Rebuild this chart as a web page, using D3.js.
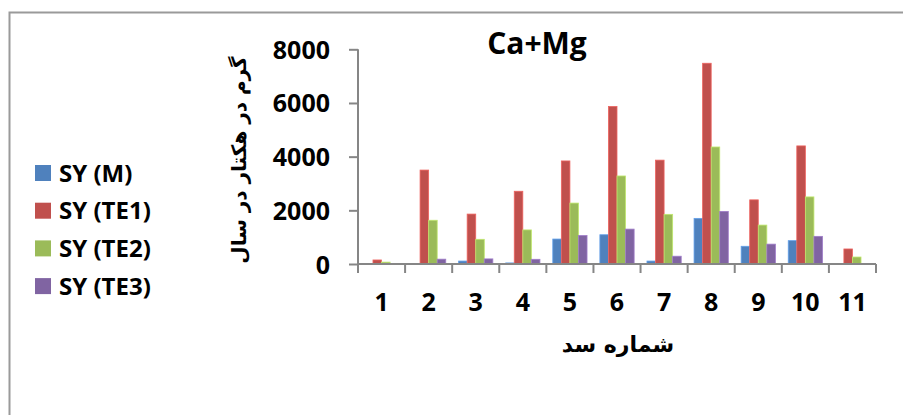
<!DOCTYPE html>
<html><head><meta charset="utf-8">
<script src="https://cdn.jsdelivr.net/npm/d3@7"></script>
<style>
html,body{margin:0;padding:0;background:#fff;overflow:hidden}
svg{display:block}
</style></head>
<body>
<svg id="c" width="903" height="415"></svg>
<script>
const categories = ["1","2","3","4","5","6","7","8","9","10","11"];
const seriesNames = ["SY (M)","SY (TE1)","SY (TE2)","SY (TE3)"];
const seriesColors = ["#4F81BD","#C0504D","#9BBB59","#8064A2"];
const SY_M   = [0, 10, 110, 40, 930, 1090, 110, 1700, 660, 870, 0];
const SY_TE1 = [150, 3500, 1860, 2710, 3840, 5870, 3870, 7480, 2390, 4400, 560];
const SY_TE2 = [70, 1630, 920, 1270, 2270, 3280, 1850, 4360, 1450, 2500, 260];
const SY_TE3 = [0, 180, 190, 175, 1060, 1300, 290, 1960, 740, 1030, 0];
const yTicks = [0, 2000, 4000, 6000, 8000];
const title = "Ca+Mg";
const yTitle = "گرم در هکتار در سال";
const xTitle = "شماره سد";

const seriesValues = [SY_M, SY_TE1, SY_TE2, SY_TE3];
const svg = d3.select("#c");
const font = "'Open Sans', 'DejaVu Sans', sans-serif";
const axisColor = "#868686";

// outer chart border
svg.append("rect").attr("x",9.5).attr("y",12.5).attr("width",1000).attr("height",1000)
  .attr("fill","none").attr("stroke","#9a9a9a").attr("stroke-width",2);

const x = d3.scaleBand().domain(categories).range([358, 876]).paddingInner(0).paddingOuter(0);
const xs = d3.scaleBand().domain(seriesNames).range([0, x.bandwidth()]).paddingInner(0).paddingOuter(0.75);
const y = d3.scaleLinear().domain([0, 8000]).range([264, 49.3]);

// bars
const g = svg.append("g");
seriesNames.forEach((s, si) => {
  g.selectAll(null).data(categories).enter().append("rect")
    .attr("x", c => x(c) + xs(s))
    .attr("width", xs.bandwidth())
    .attr("y", (c, i) => y(seriesValues[si][i]))
    .attr("height", (c, i) => y(0) - y(seriesValues[si][i]))
    .attr("fill", seriesColors[si])
    .attr("stroke", d3.color(seriesColors[si]).brighter(0.6))
    .attr("stroke-width", 0.8);
});

// y axis
const yAxis = svg.append("g").attr("transform","translate(358,0)")
  .call(d3.axisLeft(y).tickValues(yTicks).tickSize(9).tickPadding(19).tickFormat(d3.format("d")));
yAxis.select(".domain").attr("stroke",axisColor).attr("stroke-width",2).attr("d","M0,49.3V264");
yAxis.selectAll(".tick line").attr("stroke",axisColor).attr("stroke-width",2);
yAxis.selectAll(".tick text").attr("font-family",font).attr("font-weight","bold")
  .attr("font-size",25).attr("fill","#000").attr("dy","0.36em");

// x axis
const xAxis = svg.append("g").attr("transform","translate(0,264)")
  .call(d3.axisBottom(x).tickSize(0).tickPadding(29));
xAxis.select(".domain").attr("stroke",axisColor).attr("stroke-width",2).attr("d","M358,0H876");
xAxis.selectAll(".tick text").attr("font-family",font).attr("font-weight","bold")
  .attr("font-size",25).attr("fill","#000");
// boundary tick marks between categories
const bounds = categories.map(c => x(c)).concat([x.range()[1]]);
xAxis.selectAll(".bt").data(bounds).enter().append("line")
  .attr("x1", d => d).attr("x2", d => d).attr("y1", 0).attr("y2", 9)
  .attr("stroke", axisColor).attr("stroke-width", 2);

// title
svg.append("text").attr("x",537).attr("y",54).attr("text-anchor","middle")
  .attr("font-family",font).attr("font-weight","bold").attr("font-size",30).text(title);

// axis titles
svg.append("text").attr("x",618).attr("y",352).attr("text-anchor","middle").attr("direction","rtl")
  .attr("font-family","'DejaVu Sans', sans-serif").attr("font-weight","bold").attr("font-size",22).text(xTitle);
svg.append("text").attr("transform","translate(246,160) rotate(-90)").attr("text-anchor","middle").attr("direction","rtl")
  .attr("font-family","'DejaVu Sans', sans-serif").attr("font-weight","bold").attr("font-size",20).text(yTitle);

// legend
const leg = svg.append("g");
seriesNames.forEach((s, i) => {
  const yy = 165 + i * 37.7;
  leg.append("rect").attr("x",35).attr("y",yy).attr("width",16).attr("height",16).attr("fill",seriesColors[i]);
  leg.append("text").attr("x",59).attr("y",yy+16.5).attr("font-family",font).attr("font-weight","bold")
    .attr("font-size",24).attr("fill","#000").text(s);
});
</script>
</body></html>
